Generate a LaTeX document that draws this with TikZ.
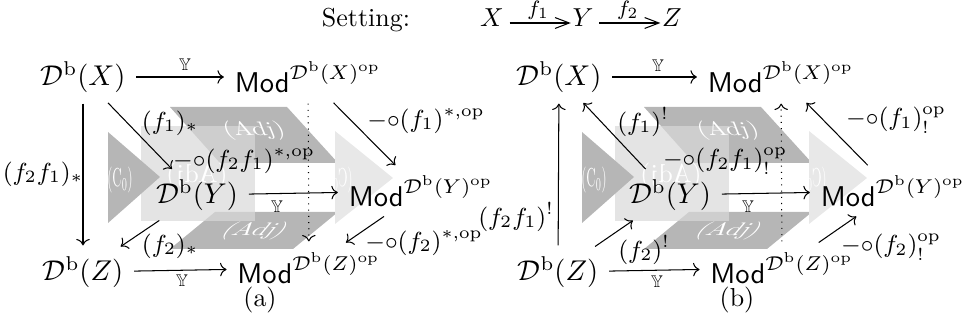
\documentclass[tikz,border=0pt]{standalone}
\usepackage{fix-cm}
\usepackage{amsmath}
\usepackage{amssymb}
\usepackage{tikz}
\usetikzlibrary{arrows.meta}
\definecolor{cface}{HTML}{B6B6B6}
\definecolor{clight}{HTML}{E8E8E8}

\begin{document}
\begin{tikzpicture}[
    x=0.385pt, y=-0.385pt,
    obj/.style={font=\fontsize{11}{13}\selectfont, inner sep=3pt},
    lbl/.style={font=\fontsize{9.5}{11}\selectfont, inner sep=0pt},
    yon/.style={font=\fontsize{6.5}{8}\selectfont, inner sep=0pt},
    facetxt/.style={text=white, font=\fontsize{10}{12}\selectfont, inner sep=0pt},
    map/.style={->, shorten <=1pt, shorten >=1pt},
    setmap/.style={-{Straight Barb[length=5.5pt, width=4.2pt]}, shorten <=2pt, shorten >=0.5pt},
]
\useasboundingbox (0,0) rectangle (962,324);

% Setting line
\node[inner sep=0pt, anchor=base] (set) at (366,27) {Setting:};
\node[inner sep=0pt, anchor=base] (tX) at (492,27) {$X$};
\node[inner sep=0pt, anchor=base] (tY) at (583,27) {$Y$};
\node[inner sep=0pt, anchor=base] (tZ) at (672,27) {$Z$};
\draw[setmap] (tX.east |- 0,23) -- node[above=1pt, font=\footnotesize, inner sep=0pt] (tf1) {$f_1$} (tY.west |- 0,23);
\draw[setmap] (tY.east |- 0,23) -- node[above=1pt, font=\footnotesize, inner sep=0pt] (tf2) {$f_2$} (tZ.west |- 0,23);

% cube faces, drawn once for (a) and once for (b)
\foreach \dx in {0,474} {
\begin{scope}[shift={(\dx,0)}]
\fill[cface] (170,107) -- (287,107) -- (338,163) -- (220,163) -- cycle;
\fill[cface] (215,212) -- (338,212) -- (293,249) -- (170,249) -- cycle;
\fill[black!15, opacity=0.7] (141,126) rectangle (255,221);
\fill[cface] (108,132) -- (160,177) -- (108,223) -- cycle;
\fill[clight] (335,131) -- (393,178) -- (335,224) -- cycle;
\node[facetxt, yscale=0.75, xslant=-0.3] at (254,131) {(Adj)};
\node[facetxt, yscale=0.7, xslant=0.6] at (255,231) {(Adj)};
\node[facetxt, xscale=-1] at (197,176) {(Adj)};
\node[facetxt, xscale=0.5] at (120,180) {(C$_0$)};
\node[facetxt, xscale=-0.5] at (340,180) {(C$_0$)};
\end{scope}
}

% (a): pushforwards
\node[obj] (aX) at (83,77) {$\mathcal{D}^{\mathrm{b}}(X)$};
\node[obj] (aMX) at (308,77) {$\mathsf{Mod}^{\mathcal{D}^{\mathrm{b}}(X)^{\mathrm{op}}}$};
\node[obj] (aY) at (197,195) {$\mathcal{D}^{\mathrm{b}}(Y)$};
\node[obj] (aMY) at (421,191) {$\mathsf{Mod}^{\mathcal{D}^{\mathrm{b}}(Y)^{\mathrm{op}}}$};
\node[obj] (aZ) at (83,272) {$\mathcal{D}^{\mathrm{b}}(Z)$};
\node[obj] (aMZ) at (309,268) {$\mathsf{Mod}^{\mathcal{D}^{\mathrm{b}}(Z)^{\mathrm{op}}}$};

\draw[map] (aX) -- (aMX);
\draw[map] (aY) -- (aMY);
\draw[map] (aZ) -- (aMZ);
\draw[map] (aX) -- (aZ);
\draw[map] (aX) -- (aY);
\draw[map] (aY) -- (aZ);
\draw[map] (aMX) -- (aMY);
\draw[map] (aMY) -- (aMZ);
\draw[map, dotted] (aMX) -- (aMZ);

\node[yon] (aY1) at (185,65) {$\mathbb{Y}$};
\node[yon] (aY2) at (277,207) {$\mathbb{Y}$};
\node[yon] (aY3) at (182,281) {$\mathbb{Y}$};
\node[lbl] (af21) at (43,174) {$(f_2f_1)_*$};
\node[lbl] (af1) at (170,123) {$(f_1)_*$};
\node[lbl] (af2) at (170,246) {$(f_2)_*$};
\node[lbl] (ag21) at (244,161) {${-}{\circ}(f_2f_1)^{*,\mathrm{op}}$};
\node[lbl] (ag1) at (426,121) {${-}{\circ}(f_1)^{*,\mathrm{op}}$};
\node[lbl] (ag2) at (424,243) {${-}{\circ}(f_2)^{*,\mathrm{op}}$};
\node (capa) at (260,300) {(a)};

% (b): exceptional pullbacks
\node[obj] (bX) at (559,77) {$\mathcal{D}^{\mathrm{b}}(X)$};
\node[obj] (bMX) at (781,77) {$\mathsf{Mod}^{\mathcal{D}^{\mathrm{b}}(X)^{\mathrm{op}}}$};
\node[obj] (bY) at (670,195) {$\mathcal{D}^{\mathrm{b}}(Y)$};
\node[obj] (bMY) at (893,191) {$\mathsf{Mod}^{\mathcal{D}^{\mathrm{b}}(Y)^{\mathrm{op}}}$};
\node[obj] (bZ) at (558,272) {$\mathcal{D}^{\mathrm{b}}(Z)$};
\node[obj] (bMZ) at (782,268) {$\mathsf{Mod}^{\mathcal{D}^{\mathrm{b}}(Z)^{\mathrm{op}}}$};

\draw[map] (bX) -- (bMX);
\draw[map] (bY) -- (bMY);
\draw[map] (bZ) -- (bMZ);
\draw[map] (bZ) -- (bX);
\draw[map] (bY) -- (bX);
\draw[map] (bZ) -- (bY);
\draw[map] (bMY) -- (bMX);
\draw[map] (bMZ) -- (bMY);
\draw[map, dotted] (bMZ) -- (bMX);

\node[yon] (bY1) at (658,66) {$\mathbb{Y}$};
\node[yon] (bY2) at (748,207) {$\mathbb{Y}$};
\node[yon] (bY3) at (657,282) {$\mathbb{Y}$};
\node[lbl] (bf21) at (516,217) {$(f_2f_1)^!$};
\node[lbl] (bf1) at (643,122) {$(f_1)^!$};
\node[lbl] (bf2) at (644,250) {$(f_2)^!$};
\node[lbl] (bg21) at (725,161) {${-}{\circ}(f_2f_1)^{\mathrm{op}}_!$};
\node[lbl] (bg1) at (896,120) {${-}{\circ}(f_1)^{\mathrm{op}}_!$};
\node[lbl] (bg2) at (891,247) {${-}{\circ}(f_2)^{\mathrm{op}}_!$};
\node (capb) at (737,300) {(b)};

\end{tikzpicture}
\end{document}
